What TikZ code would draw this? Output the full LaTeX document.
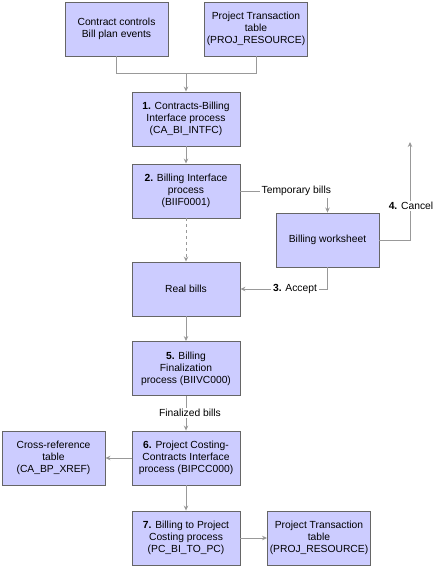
\documentclass[tikz,border=0pt]{standalone}
\usepackage{fontspec}
\setmainfont{Liberation Sans}
\usetikzlibrary{arrows.meta}
\definecolor{boxfill}{HTML}{CCCCFF}
\definecolor{boxline}{HTML}{666666}
\definecolor{linegray}{HTML}{999999}
\begin{document}
\begin{tikzpicture}[x=1pt,y=-1pt,
        box/.style={draw=boxline,fill=boxfill,line width=0.9pt,minimum width=103pt,minimum height=54pt,align=center,inner sep=2pt,font=\fontsize{10.3}{12}\selectfont},
        wide/.style={minimum width=108pt},
        lbl/.style={fill=white,inner sep=1.5pt,font=\fontsize{10.3}{12}\selectfont},
        link/.style={draw=linegray,line width=0.9pt},
        flow/.style={link,-{Stealth[length=5pt,width=4.5pt]}}]
        \useasboundingbox (0,0) rectangle (437,568);
        \node[box] (bplan) at (116.5,29) {Contract controls\\Bill plan events};
        \node[box] (projtop) at (256,29) {Project Transaction\\table\\(PROJ\_RESOURCE)};
        \node[box,wide] (intfc) at (186,119) {\textbf{1.} Contracts-Billing\\Interface process\\(CA\_BI\_INTFC)};
        \node[box,wide] (biif) at (186,191) {\textbf{2.} Billing Interface\\process\\(BIIF0001)};
        \node[box] (wsheet) at (327.5,240) {Billing worksheet};
        \node[box,wide] (real) at (186,289) {Real bills};
        \node[box,wide] (biivc) at (186,368.5) {\textbf{5.} Billing\\Finalization\\process (BIIVC000)};
        \node[box,wide] (bipcc) at (186,458) {\textbf{6.} Project Costing-\\Contracts Interface\\process (BIPCC000)};
        \node[box] (xref) at (53.5,458) {Cross-reference\\table\\(CA\_BP\_XREF)};
        \node[box,wide] (pcbi) at (186,538) {\textbf{7.} Billing to Project\\Costing process\\(PC\_BI\_TO\_PC)};
        \node[box] (projbot) at (319,538) {Project Transaction\\table\\(PROJ\_RESOURCE)};
        \coordinate (merge) at (186,73);
        \coordinate (cnltop) at (410,142);
        \node[lbl,anchor=west] (tmp) at (260,191) {Temporary bills};
        \node[lbl] (acc) at (295,289) {\textbf{3.} Accept};
        \node[lbl] (cnl) at (411,206) {\textbf{4.} Cancel};
        \node[lbl] (finl) at (190,413) {Finalized bills};
        \draw[link] (bplan.south) |- (merge);
        \draw[link] (projtop.south) |- (merge);
        \draw[flow] (merge) -- (intfc.north);
        \draw[flow] (intfc) -- (biif);
        \draw[link] (biif.east) -- (tmp.west);
        \draw[flow] (tmp.south -| wsheet.north) -- (wsheet.north);
        \draw[flow,dashed] (biif) -- (real);
        \draw[link] (wsheet.south) |- (acc.east);
        \draw[flow] (acc.west) -- (real.east);
        \draw[link] (wsheet.east) -| (cnl.south -| cnltop);
        \draw[flow] (cnl.north -| cnltop) -- (cnltop);
        \draw[flow] (real) -- (biivc);
        \draw[link] (biivc.south) -- (finl.north -| biivc.south);
        \draw[flow] (finl.south -| bipcc.north) -- (bipcc.north);
        \draw[flow] (bipcc) -- (xref);
        \draw[flow] (bipcc) -- (pcbi);
        \draw[flow] (pcbi) -- (projbot);
\end{tikzpicture}
\end{document}
